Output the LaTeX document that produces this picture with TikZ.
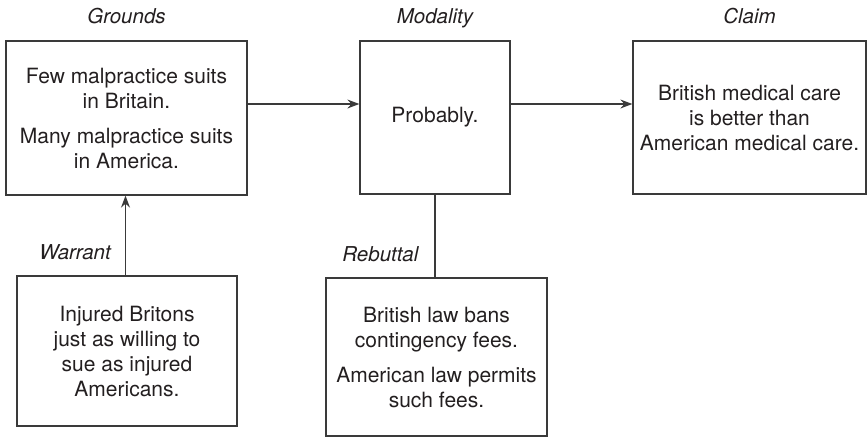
\documentclass[tikz,border=0pt]{standalone}
\usepackage{fontspec}
\setmainfont{TeX Gyre Heros}
\usetikzlibrary{arrows.meta}
\definecolor{ink}{HTML}{231F20}
\definecolor{rule}{HTML}{3A3A3A}
\begin{document}
\begin{tikzpicture}[x=1pt,y=-1pt,
  box/.style={draw=rule,line width=1.3pt,text=ink,align=center,
    inner sep=0pt,font=\fontsize{21}{25}\selectfont},
  lab/.style={text=ink,inner sep=0pt,font=\fontsize{20.5}{25}\selectfont\itshape},
  arr/.style={draw=rule,line width=1.3pt,-{Stealth[length=12pt,width=9pt,inset=4pt]}},
  con/.style={draw=rule,line width=1.3pt}]
\useasboundingbox (0,0) rectangle (868,437);
% the five boxes of the argument
\node[box,minimum width=241pt,minimum height=154pt] (grounds) at (126.5,118)
  {Few malpractice suits\\in Britain.\\[10pt]Many malpractice suits\\in America.};
\node[box,minimum width=150pt,minimum height=153pt] (modality) at (435,117.5)
  {Probably.};
\node[box,minimum width=233pt,minimum height=153pt] (claim) at (749.5,117.5)
  {British medical care\\is better than\\American medical care.};
\node[box,minimum width=220pt,minimum height=150pt] (warrant) at (127,351)
  {Injured Britons\\just as willing to\\sue as injured\\Americans.};
\node[box,minimum width=221pt,minimum height=158pt] (rebuttal) at (436.5,357)
  {British law bans\\contingency fees.\\[10pt]American law permits\\such fees.};
% role labels
\node[lab,anchor=base] (lg) at ([yshift=16.5pt]grounds.north) {Grounds};
\node[lab,anchor=base] (lm) at ([yshift=16.5pt]modality.north) {Modality};
\node[lab,anchor=base] (lc) at ([yshift=16.5pt]claim.north) {Claim};
\node[lab,anchor=base east] (lw) at ([xshift=-16pt,yshift=16pt]warrant.north) {Warrant};
\node[lab,anchor=base east] (lr) at ([xshift=-18pt,yshift=16pt]rebuttal.north) {Rebuttal};
% connectors
\coordinate (mid) at (0,104);
\draw[arr] (grounds.east |- mid) -- (modality.west |- mid);
\draw[arr] (modality.east |- mid) -- (claim.west |- mid);
\draw[arr] ([xshift=-1.5pt]warrant.north) -- ([xshift=-1.5pt]warrant.north |- grounds.south);
\draw[con] (modality.south) -- (modality.south |- rebuttal.north);
\end{tikzpicture}
\end{document}
